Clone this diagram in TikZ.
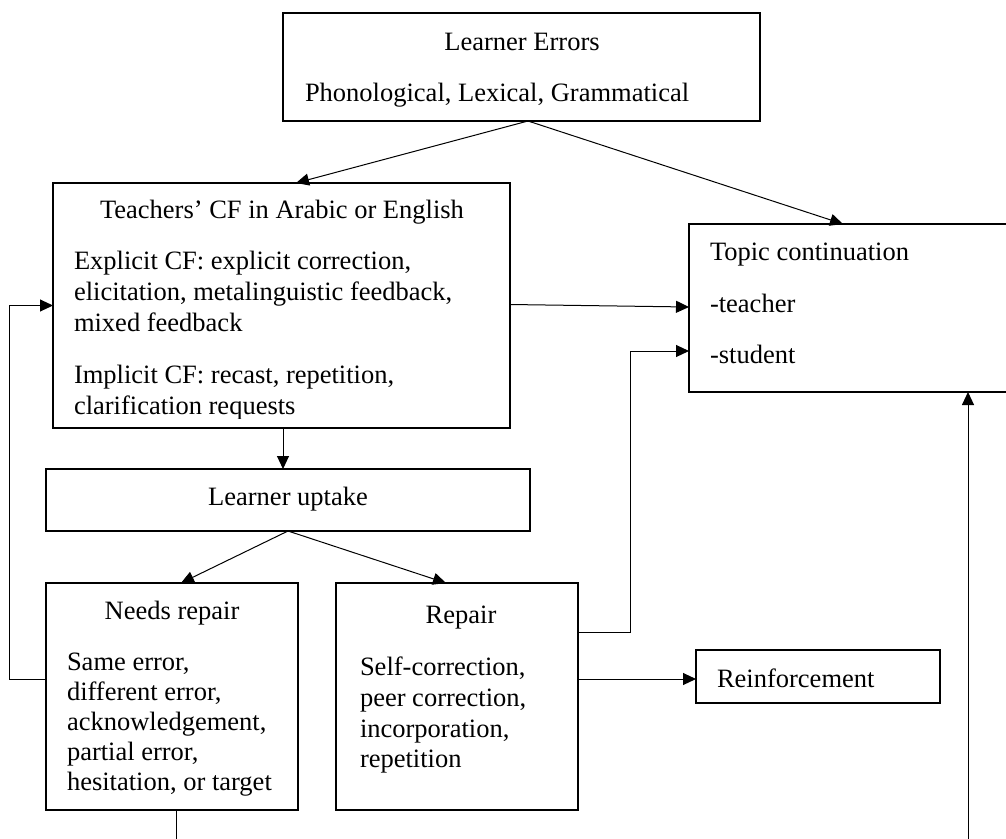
\documentclass[tikz,border=0pt]{standalone}
\usepackage{fontspec}
\setmainfont{Liberation Serif}
\usetikzlibrary{arrows.meta,calc}
\begin{document}
\begin{tikzpicture}[x=1pt,y=-1pt,
  box/.style={draw,line width=2pt,inner sep=0pt,outer sep=0pt,rectangle},
  txt/.style={inner sep=0pt,outer sep=0pt,font=\fontsize{26.5pt}{30.5pt}\selectfont},
  tl/.style={txt,anchor=base west},
  tm/.style={txt,anchor=base},
  conn/.style={line width=1pt},
  arr/.style={conn,-{Triangle[length=13pt,width=12pt]}}]
\useasboundingbox (0,0) rectangle (1006,838);
% boxes
\node[box,minimum width=477pt,minimum height=108pt] (le) at (521.5,67) {};
\node[box,minimum width=457pt,minimum height=245pt] (tf) at (281.5,305.5) {};
\node[box,minimum width=340pt,minimum height=168pt] (tc) at (859,308) {};
\node[box,minimum width=484pt,minimum height=62pt] (lu) at (288,500) {};
\node[box,minimum width=252pt,minimum height=227pt] (nr) at (172,696.5) {};
\node[box,minimum width=242pt,minimum height=227pt] (rp) at (457,696.5) {};
\node[box,minimum width=244pt,minimum height=53pt] (rf) at (818,676.5) {};
% texts
\node[tm] (le1) at (522,50) {Learner Errors};
\node[tl] (le2) at (305,101) {Phonological, Lexical, Grammatical};
\begin{scope}
\clip (54,184) rectangle (509,418);
\node[tm] (tf1) at (282,218) {Teachers’ CF in Arabic or English};
\node[tl] (tf2) at (74,269) {Explicit CF: explicit correction,};
\node[tl] (tf3) at (74,300) {elicitation, metalinguistic feedback,};
\node[tl] (tf4) at (74,331) {mixed feedback};
\node[tl] (tf5) at (74,383) {Implicit CF: recast, repetition,};
\node[tl] (tf6) at (74,414) {clarification requests};
\end{scope}
\node[tl] (tc1) at (710,260) {Topic continuation};
\node[tl] (tc2) at (710,312) {-teacher};
\node[tl] (tc3) at (710,363) {-student};
\node[tm] (lu1) at (288,505) {Learner uptake};
\node[tm] (nr1) at (172,619) {Needs repair};
\node[tl] (nr2) at (67,670) {Same error,};
\node[tl] (nr3) at (67,700) {different error,};
\node[tl] (nr4) at (67,730) {acknowledgement,};
\node[tl] (nr5) at (67,760) {partial error,};
\node[tl] (nr6) at (67,790) {hesitation, or target};
\node[tm] (rp1) at (461,623) {Repair};
\node[tl] (rp2) at (360,675) {Self-correction,};
\node[tl] (rp3) at (360,706) {peer correction,};
\node[tl] (rp4) at (360,737) {incorporation,};
\node[tl] (rp5) at (360,767) {repetition};
\node[tl] (rf1) at (717,687) {Reinforcement};
% connectors
\coordinate (leo) at ($(le.south)+(6.5,0)$);
\coordinate (tfs) at ($(tf.south)+(1.5,0)$);
\coordinate (rpo) at ($(rp.north east)+(0,49)$);
\coordinate (tcs) at ($(tc.west)+(0,43)$);
\coordinate (bot) at (968,850);
\draw[arr] (leo) -- ($(tf.north)+(14.5,0)$);
\draw[arr] (leo) -- ($(tc.north)+(-16,0)$);
\draw[arr] ($(tf.east)+(0,-1)$) -- ($(tc.west)+(0,-1)$);
\draw[arr] (tfs) -- (tfs |- lu.north);
\draw[arr] (lu.south) -- ($(nr.north)+(9,0)$);
\draw[arr] (lu.south) -- ($(rp.north)+(-11,0)$);
\draw[arr] (rpo) -- (630,632) |- (tcs);
\draw[arr] (rp.east |- 0,679) -- (rf.west |- 0,679);
\draw[arr] (nr.west |- 0,679) -- (9,679) |- (tf.west);
\draw[conn] ($(nr.south)+(4,0)$) -- ++(0,40);
\draw[arr] (bot) -- (bot |- tc.south);
\end{tikzpicture}
\end{document}
